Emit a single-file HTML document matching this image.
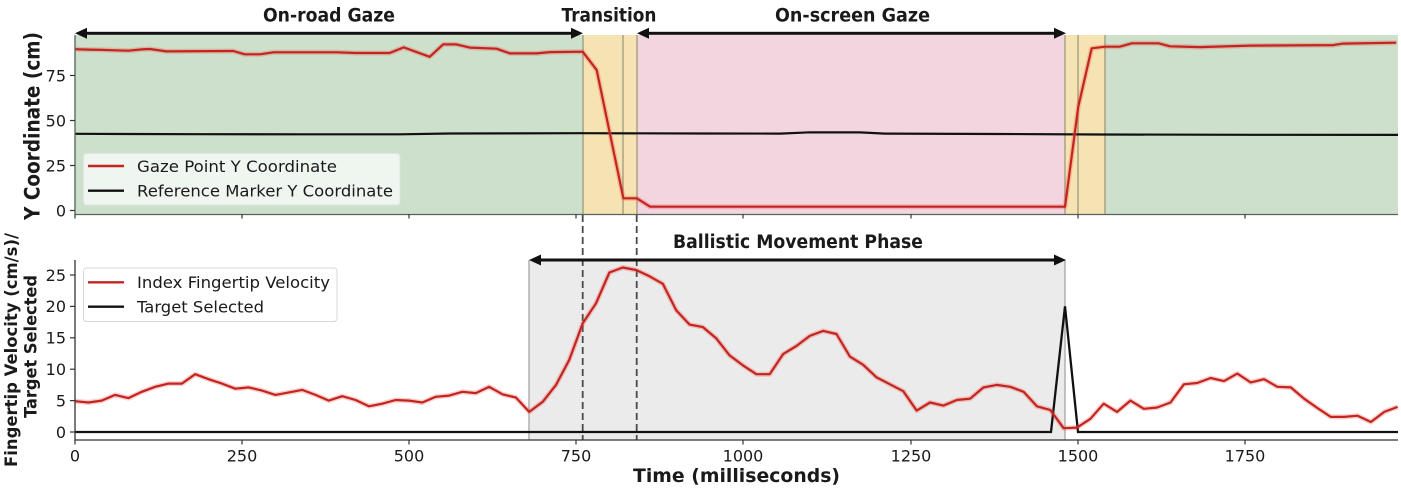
<!DOCTYPE html>
<html>
<head>
<meta charset="utf-8">
<style>
  html,body{margin:0;padding:0;background:#ffffff;}
  svg{display:block;}
  text{font-family:"DejaVu Sans","Liberation Sans",sans-serif;fill:#1a1a1a;}
  .tick{font-size:16px;}
  .leg{font-size:16px;}
  .bold{font-weight:bold;}
</style>
</head>
<body>
<svg width="1401" height="488" viewBox="0 0 1401 488" xmlns="http://www.w3.org/2000/svg">
  <!-- ============ TOP PLOT ============ -->
  <!-- background regions -->
  <rect x="75" y="35" width="508" height="179.5" fill="#cde0cc"/>
  <rect x="583" y="35" width="54" height="179.5" fill="#f6e3b3"/>
  <rect x="637" y="35" width="428" height="179.5" fill="#f2d5df"/>
  <rect x="1065" y="35" width="40" height="179.5" fill="#f6e3b3"/>
  <rect x="1105" y="35" width="293" height="179.5" fill="#cde0cc"/>
  <!-- region boundary lines -->
  <g stroke="#9c9a7a" stroke-width="1.3">
    <line x1="583" y1="35" x2="583" y2="214.5"/>
    <line x1="623" y1="35" x2="623" y2="214.5"/>
    <line x1="637" y1="35" x2="637" y2="214.5"/>
    <line x1="1065" y1="35" x2="1065" y2="214.5"/>
    <line x1="1078" y1="35" x2="1078" y2="214.5"/>
    <line x1="1105" y1="35" x2="1105" y2="214.5"/>
  </g>

  <!-- black reference line -->
  <polyline fill="none" stroke="#111" stroke-width="2.2" points="75,133.8 200,134.2 300,134.3 400,134.3 450,133.5 580,133.2 700,133.5 780,133.6 810,132.3 860,132.4 885,133.6 1000,134 1100,134.5 1250,134.8 1398,134.9"/>

  <!-- red gaze line (glow + line) -->
  <polyline fill="none" stroke="rgba(235,80,70,0.28)" stroke-width="5" stroke-linejoin="round" points="75,49.2 88.4,49.6 101.7,49.9 115.1,50.3 128.4,50.7 141.8,49.4 149.8,49.0 166.5,51.4 233.3,51.0 244.7,54.3 260,54.3 273.4,52.3 336.9,52.3 355.6,53.0 389.6,53.0 403.7,47.4 429.7,56.8 443.1,44.4 456.4,44.4 469.8,47.6 496.5,48.7 509.9,53.4 536.6,53.4 550,52.1 582.7,51.7 596.7,70.1 623.4,198.3 636.8,198.3 650.1,206.7 1065,206.7 1078.3,106.6 1091.7,48.3 1105.1,46.7 1119.8,46.7 1131.8,43.3 1158.5,43.3 1169.9,46.3 1199.9,47.1 1250,45.6 1333.5,45.1 1342.9,43.6 1396.3,42.7"/>
  <polyline fill="none" stroke="#c42420" stroke-width="2.2" stroke-linejoin="round" points="75,49.2 88.4,49.6 101.7,49.9 115.1,50.3 128.4,50.7 141.8,49.4 149.8,49.0 166.5,51.4 233.3,51.0 244.7,54.3 260,54.3 273.4,52.3 336.9,52.3 355.6,53.0 389.6,53.0 403.7,47.4 429.7,56.8 443.1,44.4 456.4,44.4 469.8,47.6 496.5,48.7 509.9,53.4 536.6,53.4 550,52.1 582.7,51.7 596.7,70.1 623.4,198.3 636.8,198.3 650.1,206.7 1065,206.7 1078.3,106.6 1091.7,48.3 1105.1,46.7 1119.8,46.7 1131.8,43.3 1158.5,43.3 1169.9,46.3 1199.9,47.1 1250,45.6 1333.5,45.1 1342.9,43.6 1396.3,42.7"/>

  <!-- top spines -->
  <line x1="75" y1="35" x2="75" y2="215" stroke="#56625a" stroke-width="1.3"/>
  <line x1="74.5" y1="214.5" x2="1398" y2="214.5" stroke="#56625a" stroke-width="1.3"/>
  <!-- top y ticks -->
  <g stroke="#333" stroke-width="1.2">
    <line x1="70" y1="210.5" x2="75" y2="210.5"/>
    <line x1="70" y1="165.5" x2="75" y2="165.5"/>
    <line x1="70" y1="120.5" x2="75" y2="120.5"/>
    <line x1="70" y1="75.5" x2="75" y2="75.5"/>
  </g>
  <g class="tick" text-anchor="end">
    <text x="66" y="216.3">0</text>
    <text x="66" y="171.3">25</text>
    <text x="66" y="126.3">50</text>
    <text x="66" y="81.3">75</text>
  </g>
  <!-- top x ticks -->
  <g stroke="#333" stroke-width="1.2">
    <line x1="75" y1="214.5" x2="75" y2="218.5"/>
    <line x1="242" y1="214.5" x2="242" y2="218.5"/>
    <line x1="409" y1="214.5" x2="409" y2="218.5"/>
    <line x1="576" y1="214.5" x2="576" y2="218.5"/>
    <line x1="743" y1="214.5" x2="743" y2="218.5"/>
    <line x1="911" y1="214.5" x2="911" y2="218.5"/>
    <line x1="1078" y1="214.5" x2="1078" y2="218.5"/>
    <line x1="1245" y1="214.5" x2="1245" y2="218.5"/>
  </g>

  <!-- top legend -->
  <rect x="83.5" y="153.5" width="316.5" height="51.5" rx="3" fill="rgba(255,255,255,0.68)" stroke="#dfe5df" stroke-width="1"/>
  <line x1="88" y1="166" x2="124" y2="166" stroke="#c42420" stroke-width="2.4"/>
  <line x1="88" y1="190.7" x2="124" y2="190.7" stroke="#111" stroke-width="2.4"/>
  <text class="leg" x="137" y="171.8" textLength="200" lengthAdjust="spacingAndGlyphs">Gaze Point Y Coordinate</text>
  <text class="leg" x="137" y="196.5" textLength="256" lengthAdjust="spacingAndGlyphs">Reference Marker Y Coordinate</text>

  <!-- top arrows -->
  <g fill="#111" stroke="none">
    <rect x="84" y="31.8" width="490" height="3"/>
    <polygon points="75,33.3 87,27.8 87,38.8"/>
    <polygon points="583,33.3 571,27.8 571,38.8"/>
    <rect x="646" y="31.8" width="410" height="3"/>
    <polygon points="637,33.3 649,27.8 649,38.8"/>
    <polygon points="1066,33.3 1054,27.8 1054,38.8"/>
  </g>
  <!-- headings -->
  <text class="bold" x="329" y="21.5" font-size="18.5" text-anchor="middle" textLength="132" lengthAdjust="spacingAndGlyphs">On-road Gaze</text>
  <text class="bold" x="609" y="21.5" font-size="18.5" text-anchor="middle" textLength="95" lengthAdjust="spacingAndGlyphs">Transition</text>
  <text class="bold" x="852.5" y="21.5" font-size="18.5" text-anchor="middle" textLength="155" lengthAdjust="spacingAndGlyphs">On-screen Gaze</text>

  <!-- top y label -->
  <text class="bold" transform="translate(39.5,126) rotate(-90)" font-size="21" text-anchor="middle" textLength="188" lengthAdjust="spacingAndGlyphs">Y Coordinate (cm)</text>

  <!-- ============ BOTTOM PLOT ============ -->
  <rect x="529" y="260" width="536" height="180" fill="#ebebeb"/>
  <line x1="529" y1="260" x2="529" y2="440" stroke="#b0b0b0" stroke-width="1.5"/>
  <line x1="1065" y1="260" x2="1065" y2="440" stroke="#b0b0b0" stroke-width="1.5"/>

  <!-- dashed lines -->
  <g stroke="#4a4a4a" stroke-width="1.8" stroke-dasharray="7,4">
    <line x1="582.7" y1="215" x2="582.7" y2="440"/>
    <line x1="636.7" y1="215" x2="636.7" y2="440"/>
  </g>

  <!-- black target selected -->
  <polyline fill="none" stroke="#111" stroke-width="2.3" stroke-linejoin="miter" points="75,432 1051,432 1065,306.4 1078,432 1398,432"/>

  <!-- red velocity -->
  <polyline fill="none" stroke="rgba(235,80,70,0.28)" stroke-width="5" stroke-linejoin="round" points="75.0,401.2 88.4,402.5 101.7,400.6 115.1,394.9 128.4,398.1 141.8,391.8 155.2,386.8 168.5,383.6 181.9,383.6 195.2,374.2 208.6,379.2 222.0,383.6 235.3,388.7 248.7,387.4 262.0,390.6 275.4,394.9 288.8,392.4 302.1,389.9 315.5,394.9 328.8,400.6 342.2,396.2 355.6,400.0 368.9,406.3 382.3,403.7 395.6,400.0 409.0,400.6 422.4,402.5 435.7,396.8 449.1,395.6 462.4,391.8 475.8,393.1 489.2,386.8 502.5,394.3 515.9,397.5 529.2,411.9 542.6,401.9 556.0,384.9 569.3,359.8 582.7,323.4 596.0,303.3 609.4,272.5 622.8,267.5 636.1,270.0 649.5,276.3 662.8,283.8 676.2,310.2 689.6,324.6 702.9,327.1 716.3,338.4 729.6,355.4 743.0,365.4 756.4,374.2 769.7,374.2 783.1,354.1 796.4,346.0 809.8,335.9 823.2,330.9 836.5,334.0 849.9,356.6 863.2,364.8 876.6,377.4 890.0,384.3 903.3,391.2 916.7,410.6 930.0,402.5 943.4,405.6 956.8,400.0 970.1,398.7 983.5,387.4 996.8,384.9 1010.2,386.8 1023.6,391.8 1036.9,406.3 1050.3,410.0 1063.6,428.2 1077.0,427.6 1090.4,418.8 1103.7,403.7 1117.1,411.9 1130.4,400.6 1143.8,408.8 1157.2,407.5 1170.5,402.5 1183.9,384.3 1197.2,383.0 1210.6,378.0 1224.0,381.1 1237.3,373.6 1250.7,382.4 1264.0,379.2 1277.4,386.8 1290.8,387.4 1304.1,398.7 1317.5,408.1 1330.8,416.9 1344.2,416.9 1357.6,415.7 1370.9,422.0 1384.3,411.9 1397.6,406.9"/>
  <polyline fill="none" stroke="#c42420" stroke-width="2.2" stroke-linejoin="round" points="75.0,401.2 88.4,402.5 101.7,400.6 115.1,394.9 128.4,398.1 141.8,391.8 155.2,386.8 168.5,383.6 181.9,383.6 195.2,374.2 208.6,379.2 222.0,383.6 235.3,388.7 248.7,387.4 262.0,390.6 275.4,394.9 288.8,392.4 302.1,389.9 315.5,394.9 328.8,400.6 342.2,396.2 355.6,400.0 368.9,406.3 382.3,403.7 395.6,400.0 409.0,400.6 422.4,402.5 435.7,396.8 449.1,395.6 462.4,391.8 475.8,393.1 489.2,386.8 502.5,394.3 515.9,397.5 529.2,411.9 542.6,401.9 556.0,384.9 569.3,359.8 582.7,323.4 596.0,303.3 609.4,272.5 622.8,267.5 636.1,270.0 649.5,276.3 662.8,283.8 676.2,310.2 689.6,324.6 702.9,327.1 716.3,338.4 729.6,355.4 743.0,365.4 756.4,374.2 769.7,374.2 783.1,354.1 796.4,346.0 809.8,335.9 823.2,330.9 836.5,334.0 849.9,356.6 863.2,364.8 876.6,377.4 890.0,384.3 903.3,391.2 916.7,410.6 930.0,402.5 943.4,405.6 956.8,400.0 970.1,398.7 983.5,387.4 996.8,384.9 1010.2,386.8 1023.6,391.8 1036.9,406.3 1050.3,410.0 1063.6,428.2 1077.0,427.6 1090.4,418.8 1103.7,403.7 1117.1,411.9 1130.4,400.6 1143.8,408.8 1157.2,407.5 1170.5,402.5 1183.9,384.3 1197.2,383.0 1210.6,378.0 1224.0,381.1 1237.3,373.6 1250.7,382.4 1264.0,379.2 1277.4,386.8 1290.8,387.4 1304.1,398.7 1317.5,408.1 1330.8,416.9 1344.2,416.9 1357.6,415.7 1370.9,422.0 1384.3,411.9 1397.6,406.9"/>

  <!-- bottom spines -->
  <line x1="75" y1="260" x2="75" y2="440.5" stroke="#333" stroke-width="1.3"/>
  <line x1="74.5" y1="440" x2="1398" y2="440" stroke="#333" stroke-width="1.3"/>
  <!-- bottom y ticks -->
  <g stroke="#333" stroke-width="1.2">
    <line x1="70" y1="432" x2="75" y2="432"/>
    <line x1="70" y1="400.6" x2="75" y2="400.6"/>
    <line x1="70" y1="369.2" x2="75" y2="369.2"/>
    <line x1="70" y1="337.8" x2="75" y2="337.8"/>
    <line x1="70" y1="306.4" x2="75" y2="306.4"/>
    <line x1="70" y1="275" x2="75" y2="275"/>
  </g>
  <g class="tick" text-anchor="end">
    <text x="66" y="437.8">0</text>
    <text x="66" y="406.4">5</text>
    <text x="66" y="375">10</text>
    <text x="66" y="343.6">15</text>
    <text x="66" y="312.2">20</text>
    <text x="66" y="280.8">25</text>
  </g>
  <!-- bottom x ticks -->
  <g stroke="#333" stroke-width="1.2">
    <line x1="75" y1="440" x2="75" y2="444.5"/>
    <line x1="242" y1="440" x2="242" y2="444.5"/>
    <line x1="409" y1="440" x2="409" y2="444.5"/>
    <line x1="576" y1="440" x2="576" y2="444.5"/>
    <line x1="743" y1="440" x2="743" y2="444.5"/>
    <line x1="911" y1="440" x2="911" y2="444.5"/>
    <line x1="1078" y1="440" x2="1078" y2="444.5"/>
    <line x1="1245" y1="440" x2="1245" y2="444.5"/>
  </g>
  <g class="tick" text-anchor="middle">
    <text x="75" y="461.5">0</text>
    <text x="242" y="461.5">250</text>
    <text x="409" y="461.5">500</text>
    <text x="576" y="461.5">750</text>
    <text x="743" y="461.5">1000</text>
    <text x="911" y="461.5">1250</text>
    <text x="1078" y="461.5">1500</text>
    <text x="1245" y="461.5">1750</text>
  </g>

  <!-- bottom legend -->
  <rect x="83.5" y="268" width="253.5" height="53.5" rx="3" fill="rgba(255,255,255,0.85)" stroke="#d8d8d8" stroke-width="1"/>
  <line x1="88" y1="282.3" x2="124" y2="282.3" stroke="#c42420" stroke-width="2.4"/>
  <line x1="88" y1="306.7" x2="124" y2="306.7" stroke="#111" stroke-width="2.4"/>
  <text class="leg" x="137" y="288" textLength="193" lengthAdjust="spacingAndGlyphs">Index Fingertip Velocity</text>
  <text class="leg" x="137" y="312.4" textLength="127" lengthAdjust="spacingAndGlyphs">Target Selected</text>

  <!-- ballistic arrow -->
  <g fill="#111" stroke="none">
    <rect x="538" y="258.5" width="519" height="3"/>
    <polygon points="529,260 541,254.5 541,265.5"/>
    <polygon points="1066,260 1054,254.5 1054,265.5"/>
  </g>
  <text class="bold" x="798" y="248" font-size="18.5" text-anchor="middle" textLength="250" lengthAdjust="spacingAndGlyphs">Ballistic Movement Phase</text>

  <!-- x label -->
  <text class="bold" x="736.5" y="482" font-size="19" text-anchor="middle" textLength="207" lengthAdjust="spacingAndGlyphs">Time (milliseconds)</text>

  <!-- bottom y label (two lines) -->
  <text class="bold" transform="translate(17,350) rotate(-90)" font-size="17" text-anchor="middle" textLength="234" lengthAdjust="spacingAndGlyphs">Fingertip Velocity (cm/s)/</text>
  <text class="bold" transform="translate(36.5,346.5) rotate(-90)" font-size="17" text-anchor="middle" textLength="143" lengthAdjust="spacingAndGlyphs">Target Selected</text>
</svg>
</body>
</html>
